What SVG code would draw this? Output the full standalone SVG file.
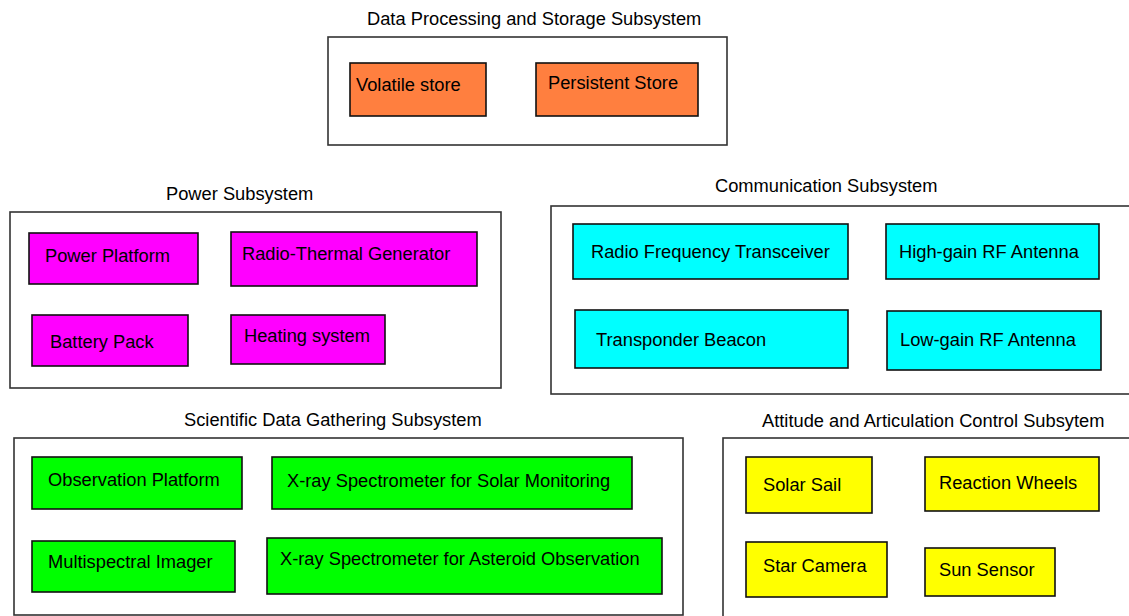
<svg xmlns="http://www.w3.org/2000/svg" width="1129" height="616" viewBox="0 0 1129 616">
<style>
text{font-family:"Liberation Sans",Arial,sans-serif;font-size:18.3px;fill:#000}
.grp{fill:#fff;stroke:#333;stroke-width:1.6}
.n{stroke:#111;stroke-width:1.6}
.or{fill:#FF7F3F}.mg{fill:#FF00FF}.cy{fill:#00FFFF}.gr{fill:#00FF00}.ye{fill:#FFFF00}
</style>
<rect width="1129" height="616" fill="#fff"/>
<g id="dps">
<text x="367" y="25">Data Processing and Storage Subsystem</text>
<rect class="grp" x="328" y="37" width="399" height="108"/>
</g>
<g id="volatile-store"><rect class="n or" x="350" y="63" width="136" height="53"/><text x="356" y="91">Volatile store</text></g>
<g id="persistent-store"><rect class="n or" x="536" y="63" width="162" height="53"/><text x="548" y="89">Persistent Store</text></g>

<g id="power">
<text x="166" y="200">Power Subsystem</text>
<rect class="grp" x="10" y="212" width="491" height="176"/>
</g>
<g id="power-platform"><rect class="n mg" x="29" y="233" width="169" height="51"/><text x="45" y="262">Power Platform</text></g>
<g id="rtg"><rect class="n mg" x="231" y="232" width="246" height="54"/><text x="242" y="260">Radio-Thermal Generator</text></g>
<g id="battery-pack"><rect class="n mg" x="32" y="315" width="156" height="51"/><text x="50" y="348">Battery Pack</text></g>
<g id="heating-system"><rect class="n mg" x="231" y="315" width="154" height="49"/><text x="244" y="342">Heating system</text></g>

<g id="comm">
<text x="715" y="192">Communication Subsystem</text>
<rect class="grp" x="551" y="206" width="590" height="188"/>
</g>
<g id="rf-transceiver"><rect class="n cy" x="573" y="224" width="275" height="55"/><text x="591" y="258">Radio Frequency Transceiver</text></g>
<g id="high-gain"><rect class="n cy" x="886" y="224" width="213" height="55"/><text x="899" y="258">High-gain RF Antenna</text></g>
<g id="transponder"><rect class="n cy" x="575" y="310" width="273" height="58"/><text x="596" y="346">Transponder Beacon</text></g>
<g id="low-gain"><rect class="n cy" x="887" y="311" width="214" height="59"/><text x="900" y="346">Low-gain RF Antenna</text></g>

<g id="sci">
<text x="184" y="426">Scientific Data Gathering Subsystem</text>
<rect class="grp" x="14" y="438" width="669" height="177"/>
</g>
<g id="obs-platform"><rect class="n gr" x="32" y="457" width="210" height="52"/><text x="48" y="486">Observation Platform</text></g>
<g id="xray-solar"><rect class="n gr" x="272" y="457" width="360" height="52"/><text x="287" y="487">X-ray Spectrometer for Solar Monitoring</text></g>
<g id="multispectral"><rect class="n gr" x="32" y="541" width="203" height="51"/><text x="48" y="568">Multispectral Imager</text></g>
<g id="xray-asteroid"><rect class="n gr" x="267" y="538" width="395" height="56"/><text x="280" y="565">X-ray Spectrometer for Asteroid Observation</text></g>

<g id="aacs">
<text x="762" y="427">Attitude and Articulation Control Subsytem</text>
<rect class="grp" x="723" y="438" width="420" height="200"/>
</g>
<g id="solar-sail"><rect class="n ye" x="746" y="457" width="126" height="56"/><text x="763" y="491">Solar Sail</text></g>
<g id="reaction-wheels"><rect class="n ye" x="925" y="457" width="174" height="54"/><text x="939" y="489">Reaction Wheels</text></g>
<g id="star-camera"><rect class="n ye" x="746" y="542" width="141" height="55"/><text x="763" y="572">Star Camera</text></g>
<g id="sun-sensor"><rect class="n ye" x="925" y="548" width="130" height="48"/><text x="939" y="576">Sun Sensor</text></g>
<g id="connectors"/>
</svg>
